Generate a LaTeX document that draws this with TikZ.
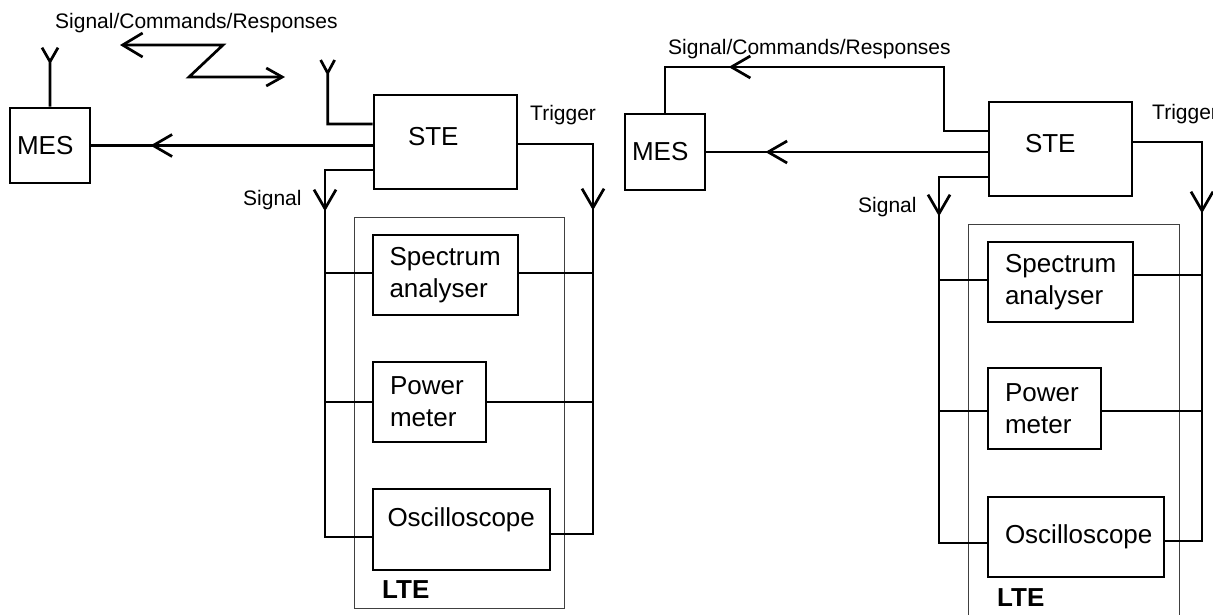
\documentclass[tikz,border=0pt]{standalone}
\usepackage{fontspec}
\setmainfont{Liberation Sans}
\usetikzlibrary{arrows.meta,positioning,calc,decorations.markings}
\newcommand{\mainsz}{\fontsize{26}{32}\selectfont}
\newcommand{\lblsz}{\fontsize{21}{25}\selectfont}
\hyphenpenalty=10000
\begin{document}
\begin{tikzpicture}[x=1pt,y=-1pt,
        box/.style={draw, line width=2.7pt, align=left, inner ysep=0pt, font=\mainsz},
        wire/.style={line width=2.7pt},
        lte/.style={draw=black!75, line width=1pt},
        lbl/.style={font=\lblsz, inner sep=0pt, anchor=base west},
        arr/.style={postaction={decorate}, decoration={markings,
            mark=at position #1 with {\arrow{Straight Barb[length=19pt,width=22pt]}}}}]
        \useasboundingbox (0,0) rectangle (1213,614);

        \draw[lte] (354,217) rectangle (564,608) coordinate (lteL);
        \node[font=\mainsz\bfseries, inner sep=0pt, anchor=base west] (lteLt) at (382,598) {LTE};
        \node[box, text width=66pt, inner xsep=7pt, minimum height=75pt] (mesL) at (50,145.5) {MES};
        \node[box, text width=75pt, inner xsep=34pt, minimum height=94pt, text height=19pt, text depth=12pt] (steL) at (445.5,142) {STE};
        \node[box, text width=112pt, inner xsep=16.5pt, minimum height=80pt] (specL) at (445.5,275) {Spectrum\\analyser};
        \node[box, text width=79pt, inner xsep=17pt, minimum height=80pt] (powL) at (429.5,402) {Power\\meter};
        \node[box, text width=148pt, inner xsep=14.5pt, minimum height=81pt, text height=19pt, text depth=25pt] (oscL) at (461.5,529.5) {Oscilloscope};
        \coordinate (sbL) at (325,537);
        \coordinate (tbL) at (593,534);
        \draw[wire] (mesL.north) -- ++(0,-45) coordinate (amL) -- ++(-8,-14) (amL) -- ++(8,-14);
        \draw[wire] ([yshift=18pt]steL.west) -| ++(-45,-51) coordinate (asL) -- ++(-7,-13) (asL) -- ++(7,-13);
        \draw[wire, {Straight Barb[length=20pt,width=24pt]}-{Straight Barb[length=16pt,width=18pt]}] (120,45) -- (223,45) -- (189,77) -- (285,77);
        \draw[wire, arr=0.79] (steL.west |- mesL.east) -- (mesL.east);
        \draw[wire, arr=89pt] ([yshift=-28pt]steL.west) -| (sbL) -- (sbL -| oscL.west);
        \draw[wire] ([yshift=2pt]specL.west) -- ([yshift=2pt]specL.west -| sbL);
        \draw[wire] (powL.west) -- (powL.west -| sbL);
        \draw[wire, arr=141pt] ([yshift=-2pt]steL.east) -| (tbL) -- (tbL -| oscL.east);
        \draw[wire] ([yshift=2pt]specL.east) -- ([yshift=2pt]specL.east -| tbL);
        \draw[wire] (powL.east) -- (powL.east -| tbL);
        \node[lbl] (cmdL) at (55,28) {Signal/Commands/Responses};
        \node[lbl] (sigL) at (243,205.5) {Signal};
        \node[lbl] (trgL) at (530,120.5) {Trigger};

        \draw[lte] (968,224) rectangle (1179,615) coordinate (lteR);
        \node[font=\mainsz\bfseries, inner sep=0pt, anchor=base west] (lteRt) at (997,606) {LTE};
        \node[box, text width=66pt, inner xsep=7pt, minimum height=76pt] (mesR) at (665,152) {MES};
        \node[box, text width=71pt, inner xsep=36pt, minimum height=94pt, text height=19pt, text depth=12pt] (steR) at (1060.5,149) {STE};
        \node[box, text width=111pt, inner xsep=17pt, minimum height=80pt] (specR) at (1060.5,282) {Spectrum\\analyser};
        \node[box, text width=79pt, inner xsep=17pt, minimum height=81pt] (powR) at (1044.5,408.5) {Power\\meter};
        \node[box, text width=142pt, inner xsep=17pt, minimum height=80pt] (oscR) at (1076,537) {Oscilloscope};
        \coordinate (sbR) at (939,543);
        \coordinate (tbR) at (1202,541);
        \coordinate (cmR) at (944,67);
        \draw[wire, arr=323pt] ([yshift=18pt]steR.west) -| (cmR) -| (mesR.north);
        \draw[wire, arr=0.79] (steR.west |- mesR.east) -- (mesR.east);
        \draw[wire, arr=88pt] ([yshift=-28pt]steR.west) -| (sbR) -- (sbR -| oscR.west);
        \draw[wire] ([yshift=2pt]specR.west) -- ([yshift=2pt]specR.west -| sbR);
        \draw[wire] ([yshift=-2.5pt]powR.west) -- ([yshift=-2.5pt]powR.west -| sbR);
        \draw[wire, arr=140pt] ([yshift=7pt]steR.east) -| (tbR) -- (tbR -| oscR.east);
        \draw[wire] ([yshift=7pt]specR.east) -- ([yshift=7pt]specR.east -| tbR);
        \draw[wire] ([yshift=-2.5pt]powR.east) -- ([yshift=-2.5pt]powR.east -| tbR);
        \node[lbl] (cmdR) at (668,54.5) {Signal/Commands/Responses};
        \node[lbl] (sigR) at (858,212.5) {Signal};
        \node[lbl] (trgR) at (1152,119.5) {Trigger};
\end{tikzpicture}
\end{document}
